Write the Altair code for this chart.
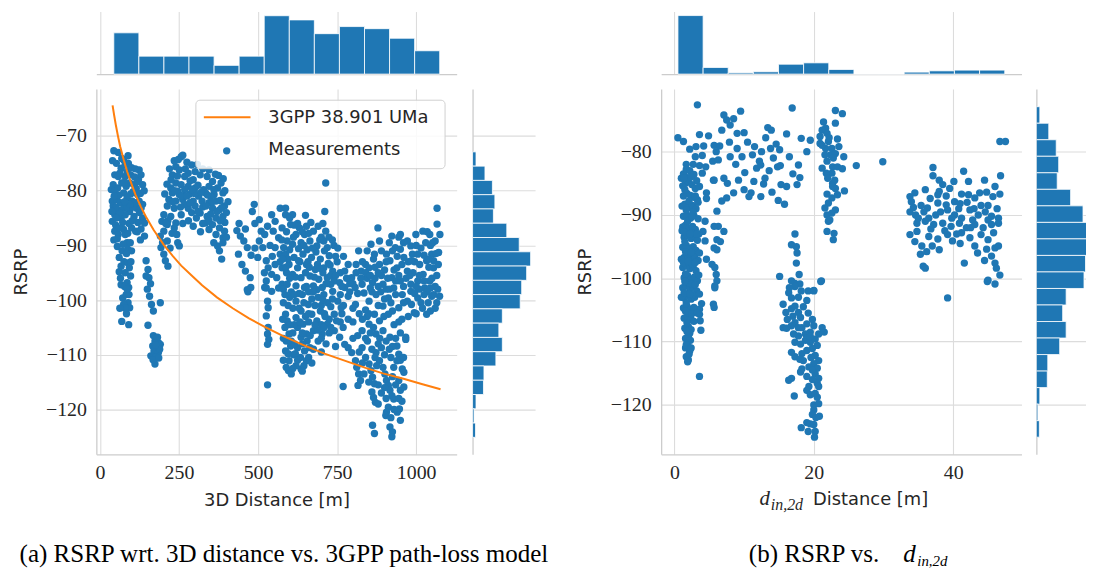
import altair as alt
import pandas as pd

# ======================= DATA =======================
# Panel (a): measurements, (3D distance [m], RSRP [dBm]) grouped by cluster
meas_a_near = [(44,-72.7),(69,-74.1),(75,-74.4),(89,-73.6),(80,-75.3),(67,-75.9),(86,-76.5),(97,-77.1),(80,-77.4),
    (124,-76.2),(130,-77.1),(122,-78.0),(47,-77.1),(58,-77.4),(42,-78.9),(56,-79.5),(69,-78.6),(94,-78.6),(108,-78.9),
    (135,-78.9),(36,-79.8),(47,-80.1),(75,-80.4),(97,-80.6),(119,-80.7),(39,-81.9),(53,-81.6),(64,-82.2),(86,-81.3),
    (102,-81.9),(124,-81.9),(135,-82.5),(42,-82.8),(58,-83.5),(75,-83.2),(94,-83.8),(116,-83.2),(47,-84.4),(67,-85.0),
    (80,-84.4),(108,-84.7),(135,-85.0),(141,-85.9),(39,-85.6),(50,-86.3),(75,-87.1),(100,-86.8),(113,-87.4),(47,-87.4),
    (80,-88.0),(141,-88.3),(58,-88.0),(86,-89.5),(88,-90.7),(61,-92.2),(67,-93.8),(89,-93.2),(93,-94.1),(80,-95.0),
    (97,-95.6),(86,-96.8),(91,-97.7),(146,-92.8),(152,-94.4),(146,-95.6),(155,-95.9),(67,-97.2),(72,-99.6),(83,-99.0),
    (89,-100.5),(94,-101.4),(75,-100.8),(69,-103.9),(91,-104.5),(157,-99.3),(163,-100.8),(169,-102.0),(191,-100.5),
    (152,-104.6),(60,-80.8),(105,-80.2),(115,-79.6),(62,-84.0),(92,-86.0),(120,-85.8),(55,-90.2),(100,-91.0),(65,-96.0),
    (52,-75.0),(83,-79.2),(110,-77.5),(128,-80.5),(72,-85.8),(85,-83.0),(105,-83.0),(125,-84.0),(55,-88.8),(130,-87.0),
    (70,-91.0),(78,-97.5),(92,-99.0),(84,-102.5),
    (40,-74.5),(58,-73.0),(63,-76.8),(77,-78.5),(90,-75.0),(100,-75.8),(112,-76.0),(118,-78.3),(140,-80.0),(130,-83.2),
    (112,-82.2),(95,-82.5),(78,-82.0),(50,-83.0),(45,-81.0),(62,-86.8),(88,-87.8),(102,-85.5),(118,-87.5),(128,-89.0),
    (38,-83.8),(44,-89.0),(52,-85.0),(96,-89.5),(73,-89.8),(61,-94.8),(76,-93.0),(84,-91.5),(98,-93.0),(80,-101.5),
    (86,-98.0),(63,-101.5),(150,-98.0),(160,-97.0)]
meas_a_low = [(169,-106.5),(174,-107.5),(185,-107.8),(167,-108.4),(180,-108.7),(191,-108.1),(171,-109.3),(185,-109.6),
    (161,-110.2),(176,-110.4),(174,-111.7),(189,-109.0),(182,-106.8),(176,-108.2),(168,-110.9),(186,-110.6)]
meas_a_b = [(257,-73.8),(262,-73.5),(240,-75.6),(290,-75.3),(251,-76.2),(279,-76.8),(301,-76.5),(229,-77.1),(268,-77.4),
    (317,-77.1),(339,-77.4),(295,-78.0),(356,-78.3),(383,-78.6),(240,-78.6),(257,-78.9),(279,-79.2),(224,-79.5),(246,-80.1),
    (268,-79.8),(301,-79.5),(328,-79.8),(345,-79.2),(372,-79.5),(229,-80.4),(251,-80.7),(284,-80.6),(312,-81.0),(334,-80.4),
    (361,-80.7),(389,-80.4),(218,-81.6),(240,-81.9),(262,-81.6),(295,-81.9),(323,-81.9),(345,-82.2),(367,-81.9),(213,-82.8),
    (235,-83.2),(279,-83.2),(301,-82.8),(356,-83.2),(378,-83.5),(394,-82.8),(202,-84.4),(224,-84.7),(257,-84.4),(317,-84.1),
    (339,-84.7),(367,-85.0),(389,-84.7),(196,-85.6),(213,-86.2),(240,-85.9),(334,-85.9),(356,-86.2),(378,-86.8),(394,-87.4),
    (202,-87.4),(235,-86.8),(345,-87.1),(367,-88.0),(389,-88.6),(191,-88.3),(213,-89.2),(246,-89.5),(251,-90.1),(372,-90.1),
    (389,-89.5),(193,-90.4),(202,-91.6),(207,-92.8),(215,-93.8),(268,-82.5),(290,-84.0),(310,-79.0),(325,-83.0),(350,-81.0),
    (270,-76.0),(285,-78.2),(230,-82.0),(305,-85.0),(225,-78.0),(245,-77.3),(265,-80.9),(300,-80.5),(320,-80.3),(335,-82.8),
    (350,-84.3),(360,-79.8),(380,-81.8),(395,-80.0),(375,-77.2),(255,-83.0),(285,-82.2),(215,-85.5),(228,-87.8),(395,-85.8),
    (385,-83.1),(205,-80.6),(220,-76.0),(310,-83.8),
    (235,-74.5),(248,-74.3),(275,-74.8),(308,-75.2),(325,-76.0),(345,-76.2),(365,-77.0),(390,-77.8),(212,-78.8),(236,-80.0),
    (258,-81.0),(275,-81.0),(292,-79.8),(340,-80.8),(355,-82.0),(370,-83.8),(380,-85.5),(345,-85.5),(325,-86.0),(318,-87.5),
    (400,-84.0),(400,-88.5),(405,-82.0),(208,-86.0),(198,-89.5),(222,-90.5),(243,-88.0),(262,-86.0),(280,-85.5),(295,-86.5),
    (360,-89.5),(378,-91.0),(385,-92.5)]
meas_a_c = [(433,-87.3),(444,-88.3),(488,-82.5),(482,-83.8),(455,-89.2),(466,-90.4),(438,-91.6),(449,-93.5),(460,-94.7),
    (475,-95.9),(504,-85.3),(510,-87.4),(504,-89.2),(521,-88.0),(515,-90.4),(499,-92.2),(526,-92.8),(532,-94.1),(543,-95.3),
    (526,-96.5),(543,-84.4),(554,-85.6),(570,-83.2),(587,-84.4),(548,-87.4),(565,-88.6),(554,-90.4),(570,-91.6),(554,-93.5),
    (576,-94.1),(559,-95.9),(576,-97.1),(477,-97.7),(521,-97.7),(466,-98.1),(468,-98.5),(526,-97.8),(530,-100.2),(532,-101.4),
    (526,-102.9),(532,-105.0),(530,-106.2),(534,-107.2),(530,-108.1),(530,-115.5),(543,-98.4),(565,-97.8),(440,-86.0),
    (460,-87.0),(490,-86.0),(530,-86.5),(538,-90.0),(490,-90.5),(478,-91.8),(520,-95.0),(545,-92.0)]
meas_a_d = [(587,-83.2),(609,-84.4),(576,-86.8),(603,-86.2),(631,-86.8),(653,-86.5),(675,-87.4),(647,-88.0),(620,-88.0),
    (592,-89.2),(581,-90.4),(609,-89.8),(636,-89.5),(664,-89.2),(686,-90.1),(714,-78.6),(711,-83.8),(714,-87.4),(708,-89.2),
    (719,-90.4),(587,-91.6),(614,-92.2),(642,-91.6),(669,-92.2),(697,-92.5),(725,-91.9),(598,-93.5),(625,-94.1),(653,-93.5),
    (681,-94.4),(708,-94.1),(736,-94.7),(609,-95.3),(636,-95.9),(664,-95.6),(692,-96.2),(719,-95.9),(741,-96.5),(592,-97.1),
    (620,-97.4),(647,-97.7),(675,-97.4),(703,-97.7),(730,-97.1),(758,-96.8),(774,-97.7),(600,-90.8),(628,-90.6),(655,-90.8),
    (683,-91.2),(710,-91.0),(590,-95.0),(650,-95.0),(678,-95.8),(705,-95.0),(750,-93.0),(760,-95.0),(740,-90.0),(625,-86.0),
    (590,-87.5),(660,-87.8),(700,-88.5),
    (587,-102.6),(592,-103.8),(585,-105.0),(598,-106.2),(589,-107.5),(603,-108.4),(587,-109.3),(598,-111.1),(589,-112.3),
    (596,-112.9),(620,-103.2),(636,-102.0),(625,-105.0),(642,-104.4),(636,-106.8),(653,-106.2),(625,-108.7),(647,-109.3),
    (634,-110.5),(653,-111.1),(636,-112.6),(664,-108.7),(675,-105.6),(686,-103.8),(697,-102.0),(670,-102.6),(659,-100.8),
    (620,-100.2),(708,-99.0),(686,-98.1),(653,-97.5),(736,-98.4),(703,-106.2),(719,-104.4),(741,-102.6),(752,-100.2),
    (741,-105.6),(758,-106.8),(769,-105.0),(774,-108.1),(785,-103.5),(769,-115.8),(600,-99.5),(640,-99.0),(670,-99.8),
    (720,-100.5),(610,-101.5),(700,-101.0),(730,-101.2),(760,-99.0),(612,-110.0),(610,-106.0),(660,-104.0),(690,-107.5),
    (715,-108.0),(605,-113.5),(620,-112.0),
    (575,-89.0),(595,-92.5),(618,-95.8),(632,-93.0),(645,-90.0),(658,-93.0),(672,-90.5),(688,-93.5),(695,-89.0),(722,-93.3),
    (730,-95.5),(745,-92.0),(765,-97.5),(580,-98.0),(605,-98.5),(630,-98.8),(660,-98.5),(690,-99.5),(715,-97.0),(580,-100.5),
    (595,-101.0),(630,-101.5),(650,-103.0),(680,-101.0),(710,-102.5),(725,-103.5),(700,-104.5),(690,-105.5),(655,-107.5),
    (640,-108.0),(615,-104.5),(605,-107.5),(675,-109.0),(700,-109.5),(725,-106.0),(745,-108.5),(760,-104.0),(618,-109.8),
    (645,-112.0),(660,-110.5),(600,-96.0),(612,-88.5),(640,-87.5),(570,-93.0),
    (600,-85.0),(615,-86.3),(650,-84.5),(667,-85.8),(690,-86.5),(705,-86.0),(724,-88.5),(735,-89.0),(752,-90.5),(770,-92.0),
    (578,-92.5),(588,-94.0),(628,-92.8),(662,-94.0),(695,-94.2),(728,-93.6),(745,-95.5),(585,-99.0),(615,-99.0),(645,-100.5),
    (675,-98.5),(705,-100.0),(735,-99.8),(770,-101.0),(578,-103.5),(600,-104.5),(632,-104.0),(665,-106.5),(680,-104.5),
    (708,-105.0),(730,-105.0),(748,-103.8),(765,-102.5),(580,-107.0),(595,-109.8),(615,-108.0),(640,-106.0),(660,-102.5),
    (700,-107.0),(712,-103.0),(610,-112.5),(625,-111.0),(640,-113.0),(580,-111.0),(670,-111.5)]
meas_a_e = [(785,-108.7),(796,-109.6),(808,-111.1),(812,-112.3),(818,-113.5),(824,-114.7),(816,-115.6),(840,-110.5),
    (851,-111.7),(857,-112.9),(862,-114.1),(868,-115.3),(860,-116.8),(865,-117.8),(871,-118.7),(873,-109.6),(884,-111.1),
    (890,-108.7),(895,-112.3),(901,-113.5),(906,-114.7),(912,-115.6),(917,-116.5),(923,-117.5),(929,-118.1),(912,-119.6),
    (906,-120.5),(904,-121.1),(862,-122.9),(868,-124.4),(917,-123.2),(925,-124.1),(923,-125.0),(950,-122.0),(947,-119.9),
    (945,-114.7),(950,-116.5),(961,-115.9),(939,-108.4),(945,-109.9),(929,-112.3),(939,-111.1),(956,-112.6),(961,-113.2),
    (967,-106.8),(829,-108.7),(846,-107.5),(829,-105.6),(851,-104.4),(868,-102.6),(884,-103.8),(895,-105.6),(912,-102.6),
    (917,-106.8),(873,-106.2),(800,-104.0),(815,-106.5),(840,-101.8),(860,-109.0),(900,-110.0),(920,-110.5),(930,-104.5),
    (950,-106.0),(880,-115.5),(835,-113.5),(955,-103.5),(800,-101.5),(820,-102.5),(845,-103.0),(865,-105.0),(880,-108.0),
    (905,-107.5),(925,-108.5),(950,-111.0),(905,-118.0),(890,-117.0),(875,-112.0),(830,-111.5),(850,-115.0),(935,-115.5),
    (940,-120.5),(955,-118.5),
    (800,-107.0),(820,-109.5),(840,-107.0),(855,-106.0),(870,-110.5),(885,-107.0),(898,-103.0),(915,-109.0),(935,-107.0),
    (925,-114.0),(880,-119.0),(900,-116.0),(920,-121.5),(930,-120.0),(945,-118.0),(960,-110.5),(850,-102.5),(830,-103.5),
    (880,-101.0),(925,-102.0),(945,-104.0)]
meas_a_f = [(879,-86.8),(884,-89.2),(857,-89.8),(868,-91.6),(840,-93.5),(818,-91.0),(785,-93.5),(774,-94.7),(796,-95.9),
    (826,-94.7),(851,-94.1),(884,-93.5),(906,-91.6),(923,-88.3),(934,-90.4),(917,-92.8),(950,-90.7),(961,-92.2),(939,-94.1),
    (972,-94.7),(988,-91.6),(999,-88.0),(1021,-87.4),(1043,-88.0),(1066,-83.2),(1066,-86.1),(1060,-89.2),(1071,-91.3),
    (1049,-91.6),(1033,-92.8),(1011,-93.5),(1022,-95.3),(1055,-94.1),(1043,-96.5),(1005,-96.5),(983,-97.1),(950,-96.5),
    (923,-95.9),(895,-97.1),(862,-96.8),(829,-97.1),(807,-97.7),(983,-90.1),(1005,-91.6),(972,-89.2),(929,-97.8),(956,-99.0),
    (983,-98.4),(1005,-99.6),(1027,-97.8),(1049,-99.3),(1074,-99.3),(1038,-100.5),(1033,-102.6),(994,-102.3),(972,-100.2),
    (945,-101.4),(912,-99.6),(895,-101.1),(873,-99.0),(851,-100.2),(835,-98.7),(808,-100.8),(785,-99.3),(763,-101.4),
    (967,-107.2),(1030,-89.5),(1015,-90.5),(1050,-96.0),(1065,-95.5),(990,-95.0),(960,-97.5),(900,-94.5),(870,-94.0),
    (1040,-94.0),(1060,-97.5),(1010,-98.0),(940,-92.0),(975,-93.0),(800,-97.0),(815,-98.8),(845,-96.0),(860,-98.5),
    (880,-97.5),(905,-98.0),(920,-100.5),(935,-99.0),(960,-100.5),(985,-100.8),(1000,-97.5),(1015,-100.5),(1045,-97.8),
    (1065,-100.5),(1020,-101.5),(1000,-102.5),(975,-103.0),(935,-96.5),(910,-96.0),(890,-95.5),(865,-92.5),(845,-91.0),
    (890,-91.0),(915,-89.5),(945,-88.5),(960,-89.5),(995,-93.0),(1025,-91.8),(1055,-92.8),(1070,-93.5),(1045,-90.0),
    (1075,-88.0),
    (780,-96.0),(790,-98.5),(810,-95.0),(825,-96.0),(840,-95.0),(855,-97.8),(870,-96.0),(888,-98.5),(900,-99.8),(915,-98.0),
    (930,-94.5),(945,-95.5),(955,-93.5),(968,-96.0),(980,-95.5),(995,-98.8),(1010,-95.5),(1025,-96.5),(1035,-98.5),
    (1055,-99.0),(1068,-98.0),(1060,-101.5),(1045,-102.0),(1025,-99.0),(985,-92.8),(1000,-90.0),(1040,-92.5),(1052,-89.5),
    (1062,-91.5),(1035,-87.5),(950,-88.0),(925,-91.0),(905,-93.0),(880,-95.0),(855,-95.5),(830,-93.0),(810,-93.5),(790,-97.0)]

# 3GPP 38.901 UMa model curve (distance [m], RSRP [dBm])
model_dist = [40, 45, 50, 57, 64, 75, 86, 100, 113, 130, 146, 170, 202, 230, 257, 290, 323, 370, 420, 470,
              521, 580, 642, 710, 785, 840, 895, 960, 1020, 1077]
model_rsrp = [-64.4, -66.2, -67.9, -70.0, -71.9, -74.3, -76.5, -78.8, -80.8, -83.0, -84.8, -87.2, -89.9, -91.9,
              -93.7, -95.5, -97.3, -99.5, -101.5, -103.3, -104.9, -106.6, -108.2, -109.8, -111.3, -112.4, -113.4,
              -114.4, -115.4, -116.3]

# marginal histogram of 3D distance
dist_edges = [43.9, 123.2, 202.4, 281.7, 361.0, 440.2, 519.5, 598.8, 678.0, 757.3, 836.6, 915.8, 995.1, 1074.4]
dist_counts = [99, 43, 43, 43, 21, 43, 140, 130, 97, 114, 109, 86, 56]

# marginal histogram of RSRP (identical in both panels), strongest bin first
rsrp_edges = [-72.9, -75.51, -78.12, -80.73, -83.34, -85.95, -88.56, -91.17, -93.78, -96.39, -99.0, -101.61,
              -104.22, -106.83, -109.44, -112.05, -114.66, -117.27, -119.88, -122.49, -125.1]
rsrp_counts = [7, 25, 40, 45, 42, 69, 94, 117, 109, 99, 96, 60, 53, 60, 47, 23, 22, 7, 3, 6]

# Panel (b): measurements, (d_in,2d [m], RSRP [dBm])
meas_b_upper = [(3.3,-72.6),(0.5,-77.8),(1.3,-78.4),(3.6,-77.3),(4.9,-77.5),(3.1,-79.2),(4.2,-79.1),(5.7,-79.0),
    (6.5,-79.1),(7.1,-74.2),(7.5,-75.0),(8.5,-74.8),(9.5,-73.6),(6.8,-76.6),(8.0,-75.8),(9.0,-77.1),(7.9,-78.5),(10.5,-78.5),
    (13.4,-76.2),(13.9,-76.6),(13.1,-77.8),(13.8,-79.5),(14.6,-78.8),(15.1,-79.7),(16.1,-77.2),(18.2,-77.9),(19.5,-78.2),
    (16.9,-73.1),(1.7,-82.0),(2.7,-82.0),(3.6,-82.2),(4.5,-82.4),(5.5,-81.5),(6.3,-81.3),(8.0,-80.8),(8.8,-82.0),(9.7,-80.8),
    (10.1,-83.3),(11.2,-80.5),(11.8,-82.6),(12.4,-82.1),(12.2,-81.5),(13.6,-83.0),(14.8,-82.4),(15.2,-82.2),(17.8,-82.1),
    (1.0,-84.2),(1.9,-84.1),(4.0,-83.4),(5.6,-84.5),(7.1,-84.2),(7.6,-85.0),(11.4,-84.7),(12.8,-85.1),(11.0,-86.5),
    (10.7,-87.1),(12.4,-87.1),(14.0,-86.4),(15.3,-85.2),(16.1,-85.5),(17.6,-85.2),(18.0,-84.1),(14.9,-87.7),(15.8,-88.3),
    (4.6,-86.5),(5.7,-84.5),(6.8,-87.8),(7.5,-87.3),(4.6,-87.4),(26.1,-82.2),(29.9,-81.6),
    (2.2,-79.6),(4.0,-80.6),(6.0,-80.0),(9.0,-79.5),(10.0,-77.0),(11.5,-79.2),(12.5,-80.0),(14.2,-81.0),(16.5,-80.8),
    (17.0,-83.5),(9.2,-84.5),(10.0,-86.0),(13.0,-84.2),(8.5,-86.5),(3.0,-80.8),(19.0,-80.0)]
meas_b_mid = [(6.1,-89.4),(6.3,-91.8),(7.1,-92.6),(5.7,-91.8),(6.1,-93.9),(6.6,-94.2),(5.7,-95.2),(6.1,-95.5),(4.6,-97.0),
    (5.4,-97.8),(5.8,-98.3),(6.0,-99.4),(6.1,-100.4),(5.8,-101.2),(4.4,-91.0),(4.1,-92.6),(4.4,-94.1),(5.6,-104.1),
    (5.7,-104.6),(3.6,-104.9),(3.6,-105.7),(3.7,-106.7),(3.8,-108.2),(5.8,-101.5)]
meas_b_column = [(1.3,-83.5),(1.7,-82.8),(2.2,-83.0),(2.8,-83.6),(3.2,-84.6),(1.2,-85.4),(1.6,-85.0),(2.0,-84.7),
    (2.5,-85.2),(3.0,-85.8),(3.6,-85.5),(1.3,-87.0),(1.8,-86.6),(2.3,-86.9),(2.8,-87.2),(3.3,-87.6),(1.1,-88.6),(1.5,-88.3),
    (2.0,-88.8),(2.6,-88.5),(3.1,-89.0),(1.3,-90.2),(1.8,-90.0),(2.3,-90.5),(2.8,-90.1),(3.4,-90.6),(1.2,-91.9),(1.6,-91.6),
    (2.1,-92.1),(2.6,-91.8),(3.0,-92.3),(1.4,-93.5),(1.9,-93.2),(2.4,-93.7),(2.9,-93.4),(3.3,-94.0),(1.2,-95.1),(1.7,-94.8),
    (2.2,-95.3),(2.7,-95.0),(3.1,-95.6),(1.4,-96.7),(1.9,-96.4),(2.4,-96.9),(2.9,-96.6),(3.4,-97.2),(1.2,-98.3),(1.7,-98.0),
    (2.2,-98.5),(2.7,-98.2),(3.1,-98.8),(1.4,-99.9),(1.9,-99.6),(2.4,-100.1),(2.9,-99.8),(3.3,-100.4),(1.2,-101.5),
    (1.7,-101.2),(2.2,-101.7),(2.7,-101.4),(3.2,-102.0),(1.4,-103.1),(1.9,-102.8),(2.4,-103.3),(2.9,-103.0),(1.3,-104.7),
    (1.8,-104.4),(2.3,-104.9),(2.8,-104.6),(1.4,-106.3),(1.9,-106.0),(2.4,-106.5),(2.8,-106.8),(1.5,-107.9),(2.0,-107.6),
    (2.4,-108.1),(1.6,-109.5),(2.0,-109.2),(2.3,-109.8),(1.6,-111.0),(2.0,-110.8),(2.2,-111.5),(1.7,-112.4),(2.0,-112.9),
    (3.6,-115.5),(1.5,-86.0),(2.1,-87.8),(2.7,-89.5),(1.9,-91.0),(2.5,-92.8),(1.5,-94.2),(2.1,-96.0),(2.6,-97.8),
    (1.6,-99.3),(2.1,-100.8),(2.6,-102.6),(1.7,-103.9),(2.1,-105.5),(1.8,-107.0),(2.2,-108.7),(1.9,-110.2),(2.1,-112.0),
    (3.5,-93.0),(3.6,-96.0),(3.5,-99.5),(3.4,-88.0),(1.0,-97.0),(1.1,-92.5),(1.0,-103.0),
    (1.4,-84.2),(2.4,-84.0),(3.0,-87.0),(1.7,-89.2),(2.5,-90.3),(1.4,-92.7),(2.2,-93.0),(3.2,-93.0),(1.6,-95.8),(2.4,-95.9),
    (1.3,-97.5),(2.0,-97.3),(3.0,-97.5),(1.5,-100.5),(2.5,-100.9),(3.0,-101.0),(1.4,-102.3),(2.2,-102.5),(1.6,-105.2),
    (2.5,-105.6),(1.8,-108.4),(1.7,-110.5),(2.4,-111.0),(1.9,-113.2),(3.6,-102.5),(3.3,-105.5),(3.9,-104.0)]
meas_b_twenty_up = [(21.4,-75.3),(21.7,-76.3),(23.1,-73.5),(24.1,-74.0),(21.2,-76.6),(21.9,-77.1),(23.1,-75.5),(20.9,-78.7),
    (22.1,-78.4),(21.7,-79.5),(22.6,-79.5),(23.6,-79.2),(22.4,-80.5),(23.1,-80.3),(21.9,-81.5),(22.8,-81.0),(24.3,-80.8),
    (22.7,-82.4),(23.4,-82.4),(24.1,-82.7),(22.6,-83.4),(21.8,-83.4),(23.0,-84.5),(22.7,-85.0),(23.1,-85.8),(24.4,-86.2),
    (21.9,-86.7),(22.6,-87.3),(22.1,-88.1),(23.1,-89.2),(21.9,-90.0),(22.6,-89.7),(22.1,-91.0),(21.9,-92.6),(22.9,-92.9),
    (22.8,-93.9),(20.9,-77.6),(21.2,-79.0),(21.6,-80.5),(21.2,-82.6),(22.7,-85.5),(21.6,-88.9),(22.2,-77.8),(23.4,-78.0),
    (22.0,-84.2),(23.4,-86.8),(22.3,-90.8)]
meas_b_twenty_low = [(17.3,-93.0),(17.5,-95.0),(16.8,-94.7),(17.6,-96.0),(17.5,-97.6),(17.9,-99.4),(15.1,-99.7),
    (16.8,-100.4),(17.3,-100.8),(18.0,-100.9),(21.1,-100.4),(20.0,-101.9),(19.2,-102.0),(16.4,-102.3),(17.3,-101.3),
    (16.8,-103.1),(15.6,-104.1),(16.0,-105.4),(16.8,-104.8),(17.3,-104.4),(17.8,-105.4),(18.1,-106.2),(17.3,-107.0),
    (16.8,-107.5),(15.6,-107.8),(16.1,-107.9),(18.3,-107.8),(19.0,-107.2),(19.8,-106.5),(20.0,-107.5),(19.5,-108.5),
    (18.8,-108.8),(17.8,-109.1),(17.1,-108.8),(17.3,-110.1),(18.1,-110.4),(18.8,-109.8),(19.5,-110.1),(20.2,-109.6),
    (20.7,-108.8),(21.5,-108.5),(21.2,-107.8),(20.5,-110.6),(19.8,-111.1),(19.0,-111.4),(18.3,-111.9),(17.3,-112.4),
    (16.8,-111.7),(20.2,-112.2),(20.7,-113.0),(20.0,-113.5),(19.3,-114.0),(18.3,-114.3),(18.1,-114.8),(20.2,-115.1),
    (20.7,-115.8),(20.5,-116.6),(19.3,-117.1),(20.7,-117.1),(19.0,-117.7),(19.5,-118.4),(20.2,-118.2),(17.2,-118.6),
    (16.8,-115.8),(16.4,-116.1),(20.0,-120.0),(20.7,-119.8),(20.0,-120.8),(20.8,-121.8),(19.0,-122.8),(19.5,-123.0),
    (20.0,-123.1),(18.2,-123.6),(19.2,-124.2),(20.2,-124.2),(20.1,-125.1),(20.0,-102.0),(21.0,-100.5),(18.5,-104.5),
    (19.2,-105.5),(17.0,-106.0),(18.5,-113.0),(19.6,-112.5),(19.0,-109.5),(20.5,-114.2),(19.8,-116.0),(17.8,-103.0),
    (16.5,-101.5),(18.2,-102.0),(19.0,-103.5),(16.2,-106.5),(17.8,-107.8),(19.5,-109.2),(18.0,-112.8),(19.0,-115.5),
    (19.8,-114.5),(20.5,-118.8),(19.8,-121.5),(20.3,-122.0)]
meas_b_far = [(37.1,-82.5),(37.1,-83.8),(41.5,-83.1),(42.2,-84.7),(40.1,-84.7),(38.5,-85.2),(38.0,-86.3),(37.8,-86.8),
    (36.7,-87.4),(33.8,-87.1),(34.0,-87.9),(35.4,-88.5),(36.3,-88.9),(37.8,-88.1),(39.0,-88.4),(40.2,-87.9),(41.2,-86.7),
    (42.2,-86.8),(43.1,-87.3),(43.8,-86.5),(44.8,-86.4),(45.7,-87.1),(46.7,-86.7),(46.8,-83.8),(46.7,-78.4),(47.5,-78.4),
    (33.8,-89.5),(34.6,-90.0),(35.8,-89.5),(36.5,-90.5),(37.5,-90.0),(38.2,-89.5),(39.2,-89.2),(40.2,-90.0),(41.2,-90.5),
    (42.4,-89.2),(43.6,-90.0),(44.6,-89.5),(45.5,-90.2),(46.5,-90.5),(34.8,-91.3),(36.0,-91.0),(37.2,-91.5),(38.5,-91.3),
    (39.7,-91.8),(40.9,-91.3),(41.9,-92.0),(43.1,-91.5),(44.3,-92.0),(45.5,-91.5),(46.5,-91.3),(33.8,-93.1),(34.8,-92.6),
    (36.5,-93.4),(39.2,-93.1),(41.2,-92.8),(42.4,-93.6),(44.0,-93.1),(45.0,-93.9),(35.5,-94.9),(37.0,-94.9),(39.9,-94.1),
    (43.1,-94.9),(44.8,-95.4),(46.0,-95.2),(46.5,-94.9),(35.3,-96.2),(45.5,-96.5),(35.7,-98.1),(36.0,-98.4),(41.6,-97.6),
    (46.0,-97.6),(46.2,-98.4),(46.7,-99.5),(45.0,-100.3),(46.0,-100.9),(39.2,-103.1),(44.9,-100.5),(35.0,-90.5),
    (38.8,-92.5),(40.8,-89.0),(42.8,-90.8),(44.0,-88.5),(45.8,-92.8),(37.8,-93.8),(36.2,-95.8),(41.0,-94.5),(43.5,-96.0),
    (39.0,-87.0),(44.5,-84.5),(46.3,-89.0),(34.3,-88.8),(42.0,-88.0),
    (34.5,-86.5),(36.0,-86.0),(38.0,-84.5),(39.5,-85.8),(41.0,-88.2),(43.0,-89.0),(45.0,-88.5),(46.0,-85.5),(36.8,-92.2),
    (39.8,-90.5),(42.5,-92.0),(45.0,-90.8),(40.5,-93.0),(38.0,-95.5),(44.5,-97.2),(34.5,-94.2)]

# marginal histogram of d_in,2d
din_edges = [0.51, 4.12, 7.72, 11.33, 14.94, 18.54, 22.15, 25.76, 29.36, 32.97, 36.58, 40.18, 43.79, 47.4]
din_counts = [556, 63, 12, 22, 94, 107, 44, 1, 1, 19, 31, 38, 38]

caption_a = "(a) RSRP wrt. 3D distance vs. 3GPP path-loss model"
caption_b = "(b) RSRP vs."

# ======================= STYLE =======================
BLUE, ORANGE = "#1f77b4", "#ff7f0e"
GRID, SPINE, TXT = "#dcdcdc", "#cccccc", "#262626"
SERIF, SANS = "Liberation Serif", "DejaVu Sans"
PT = 55

def pts(*groups):
    rows = [p for g in groups for p in g]
    return pd.DataFrame(rows, columns=["x", "y"])

df_a = pts(meas_a_near, meas_a_low, meas_a_b, meas_a_c, meas_a_d, meas_a_e, meas_a_f)
df_b = pts(meas_b_upper, meas_b_mid, meas_b_column, meas_b_twenty_up, meas_b_twenty_low, meas_b_far)
df_model = pd.DataFrame({"x": model_dist, "y": model_rsrp})
df_dist_h = pd.DataFrame({"lo": dist_edges[:-1], "hi": dist_edges[1:], "n": dist_counts, "z": 0})
df_din_h = pd.DataFrame({"lo": din_edges[:-1], "hi": din_edges[1:], "n": din_counts, "z": 0})
df_rsrp_h = pd.DataFrame({"top": rsrp_edges[:-1], "bot": rsrp_edges[1:], "n": rsrp_counts, "z": 0})
one = pd.DataFrame({"k": [0]})

xa_scale = alt.Scale(domain=[-11.3, 1128], nice=False, zero=False)
ya_scale = alt.Scale(domain=[-128.2, -61.4], nice=False, zero=False)
xb_scale = alt.Scale(domain=[-1.9, 49.8], nice=False, zero=False)
yb_scale = alt.Scale(domain=[-127.8, -70.1], nice=False, zero=False)

W, H, HT, WR = 363, 368, 63, 63

def xaxis(vals, title=None, labels=True):
    kw = dict(values=vals, grid=True, gridColor=GRID, gridWidth=1.1, domainColor=SPINE, domainWidth=1.3,
              ticks=False, labels=labels, format="d", labelFont=SERIF, labelFontSize=20, labelColor=TXT,
              labelPadding=8, labelFlush=False, labelOverlap=False)
    if title:
        kw.update(title=title, titleFont=SANS, titleFontSize=18, titleFontWeight="normal", titleColor=TXT,
                  titleY=51.3, titleBaseline="alphabetic")
    else:
        kw.update(title=None)
    return alt.Axis(**kw)

def yaxis(vals, title=None, labels=True):
    kw = dict(values=vals, grid=True, gridColor=GRID, gridWidth=1.1, domainColor=SPINE, domainWidth=1.3,
              ticks=False, labels=labels, format="d", labelFont=SERIF, labelFontSize=20, labelColor=TXT,
              labelPadding=10, labelFlush=False, labelOverlap=False)
    if title:
        kw.update(title=title, titleFont=SANS, titleFontSize=18, titleFontWeight="normal", titleColor=TXT,
                  titleX=-75.7, titleY=H / 2, titleAngle=270, titleAlign="center", titleBaseline="middle")
    else:
        kw.update(title=None)
    return alt.Axis(**kw)

# ---------- panel (a) ----------
xa_enc = alt.X("x:Q", scale=xa_scale, axis=xaxis([0, 250, 500, 750, 1000], "3D Distance [m]"))
ya_enc = alt.Y("y:Q", scale=ya_scale, axis=yaxis([-70, -80, -90, -100, -110, -120], "RSRP"))

pts_a = alt.Chart(df_a).mark_circle(size=PT, color=BLUE, opacity=1).encode(x=xa_enc, y=ya_enc)
line_a = alt.Chart(df_model).mark_line(color=ORANGE, strokeWidth=2).encode(x=xa_enc, y=ya_enc)
leg_box = alt.Chart(one).mark_rect(fill="white", fillOpacity=0.85, stroke="#d0d0d0", strokeWidth=1,
                                   cornerRadius=4).encode(
    x=alt.value(100.3), x2=alt.value(351.3), y=alt.value(11.3), y2=alt.value(80.3))
leg_line = alt.Chart(one).mark_rule(color=ORANGE, strokeWidth=2).encode(
    x=alt.value(108.3), x2=alt.value(155.3), y=alt.value(28.5))
leg_dot = alt.Chart(one).mark_circle(size=PT, color=BLUE, opacity=1).encode(x=alt.value(131.3), y=alt.value(62.3))
leg_t1 = alt.Chart(one).mark_text(align="left", baseline="middle", font=SANS, fontSize=18, color=TXT).encode(
    x=alt.value(173.3), y=alt.value(29.5), text=alt.value("3GPP 38.901 UMa"))
leg_t2 = alt.Chart(one).mark_text(align="left", baseline="middle", font=SANS, fontSize=18, color=TXT).encode(
    x=alt.value(173.3), y=alt.value(62.0), text=alt.value("Measurements"))
scatter_a = alt.layer(pts_a, line_a, leg_box, leg_line, leg_dot, leg_t1, leg_t2).properties(width=W, height=H)

top_a = alt.Chart(df_dist_h).mark_rect(color=BLUE, stroke="white", strokeWidth=0.8).encode(
    x=alt.X("lo:Q", scale=xa_scale, axis=xaxis([0, 250, 500, 750, 1000], labels=False)),
    x2="hi:Q",
    y=alt.Y("n:Q", scale=alt.Scale(domain=[0, 150], nice=False), axis=None),
    y2="z:Q",
).properties(width=W, height=HT)

right_a = alt.Chart(df_rsrp_h).mark_rect(color=BLUE, stroke="white", strokeWidth=0.8).encode(
    y=alt.Y("bot:Q", scale=ya_scale, axis=yaxis([-70, -80, -90, -100, -110, -120], labels=False)),
    y2="top:Q",
    x=alt.X("n:Q", scale=alt.Scale(domain=[0, 126], nice=False), axis=None),
    x2="z:Q",
).properties(width=WR, height=H)

panel_a = alt.vconcat(top_a, alt.hconcat(scatter_a, right_a, spacing=15), spacing=14)

# ---------- panel (b) ----------
xb_enc = alt.X("x:Q", scale=xb_scale, axis=xaxis([0, 20, 40]))
yb_enc = alt.Y("y:Q", scale=yb_scale, axis=yaxis([-80, -90, -100, -110, -120], "RSRP"))
pts_b = alt.Chart(df_b).mark_circle(size=PT, color=BLUE, opacity=1).encode(x=xb_enc, y=yb_enc)
xt_d = alt.Chart(one).mark_text(align="left", baseline="alphabetic", font=SERIF, fontStyle="italic",
                                fontSize=21, color=TXT).encode(x=alt.value(99), y=alt.value(419.3), text=alt.value("d"))
xt_sub = alt.Chart(one).mark_text(align="left", baseline="alphabetic", font=SERIF, fontStyle="italic",
                                  fontSize=16, color=TXT).encode(x=alt.value(110.5), y=alt.value(424), text=alt.value("in,2d"))
xt_rest = alt.Chart(one).mark_text(align="left", baseline="alphabetic", font=SANS, fontSize=18, color=TXT).encode(
    x=alt.value(153), y=alt.value(419.3), text=alt.value("Distance [m]"))
scatter_b = alt.layer(pts_b, xt_d, xt_sub, xt_rest).properties(width=W, height=H)

top_b = alt.Chart(df_din_h).mark_rect(color=BLUE, stroke="white", strokeWidth=0.8).encode(
    x=alt.X("lo:Q", scale=xb_scale, axis=xaxis([0, 20, 40], labels=False)),
    x2="hi:Q",
    y=alt.Y("n:Q", scale=alt.Scale(domain=[0, 594], nice=False), axis=None),
    y2="z:Q",
).properties(width=W, height=HT)

right_b = alt.Chart(df_rsrp_h).mark_rect(color=BLUE, stroke="white", strokeWidth=0.8, clip=True).encode(
    y=alt.Y("bot:Q", scale=yb_scale, axis=yaxis([-80, -90, -100, -110, -120], labels=False)),
    y2="top:Q",
    x=alt.X("n:Q", scale=alt.Scale(domain=[0, 100], nice=False), axis=None),
    x2="z:Q",
).properties(width=50, height=H)

panel_b = alt.vconcat(top_b, alt.hconcat(scatter_b, right_b, spacing=15), spacing=14)

# ---------- captions ----------
CAPF = 25.2
cap_a = alt.Chart(one).mark_text(align="center", baseline="alphabetic", font=SERIF, fontSize=CAPF, color="black").encode(
    x=alt.value(189), y=alt.value(20), text=alt.value(caption_a))
cap_b = alt.Chart(one).mark_text(align="left", baseline="alphabetic", font=SERIF, fontSize=CAPF, color="black").encode(
    x=alt.value(657.3), y=alt.value(20), text=alt.value(caption_b))
cap_d = alt.Chart(one).mark_text(align="left", baseline="alphabetic", font=SERIF, fontStyle="italic",
                                 fontSize=CAPF, color="black").encode(x=alt.value(813), y=alt.value(20), text=alt.value("d"))
cap_sub = alt.Chart(one).mark_text(align="left", baseline="alphabetic", font=SERIF, fontStyle="italic",
                                   fontSize=15, color="black").encode(x=alt.value(827), y=alt.value(24), text=alt.value("in,2d"))
captions = alt.layer(cap_a, cap_b, cap_d, cap_sub).properties(width=900, height=22)

chart = alt.vconcat(
    alt.hconcat(panel_a, panel_b, spacing=42),
    captions,
    spacing=30,
).properties(padding={"left": 4, "top": 1.5, "right": 0, "bottom": 0}).configure_view(
    stroke=None
).configure_axis(labelFont=SERIF, labelFontSize=20)

chart.save("out.html", embed_options={"renderer": "svg", "actions": False})
